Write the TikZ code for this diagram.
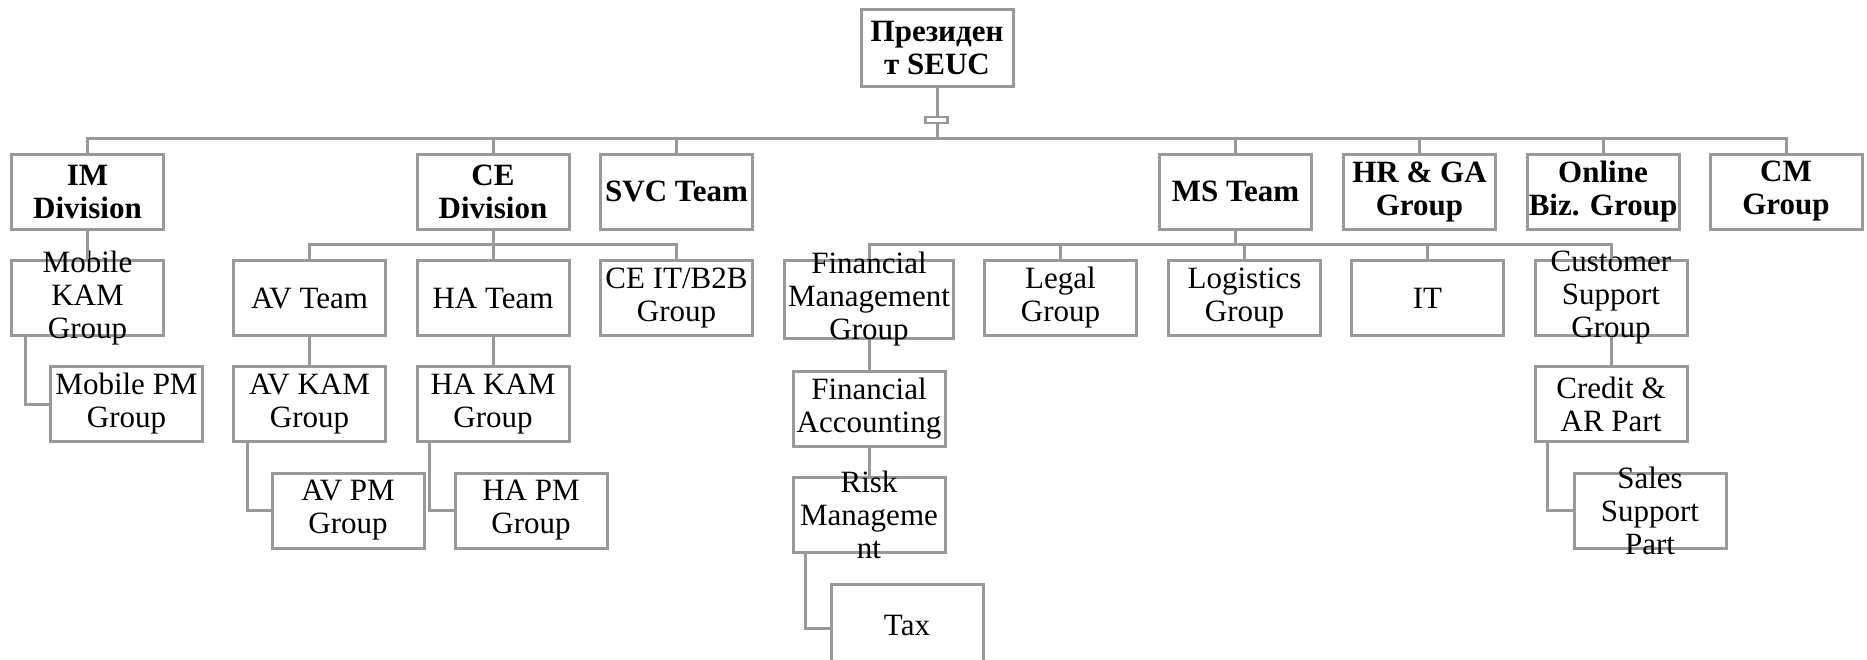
\documentclass[tikz,border=0pt]{standalone}
\usepackage{fontspec}
\setmainfont{Liberation Serif}
\usepackage{tikz}
\usetikzlibrary{positioning,calc}
\definecolor{linegray}{HTML}{999999}

\begin{document}
\begin{tikzpicture}[x=1pt, y=-1pt,
  txt/.style={align=center, inner sep=0pt, font=\fontsize{31}{33}\selectfont},
  box/.style={draw=linegray, line width=3pt, minimum width=152pt, minimum height=75pt, inner sep=0pt, label={[txt]center:#1}},
  head/.style={draw=linegray, line width=3pt, minimum width=152pt, minimum height=75pt, inner sep=0pt, label={[txt, font=\fontsize{31}{33}\selectfont\bfseries]center:#1}},
  link/.style={draw=linegray, line width=3pt}]
\useasboundingbox (0,0) rectangle (1867,659);
% President
\node[head={Президен\\т SEUC}, minimum height=77pt] (pres) at (937,48) {};
% Divisions
\node[head={IM\\Division}] (im) at (87.5,191.5) {};
\node[head={CE\\Division}] (ce) at (493,191.5) {};
\node[head={SVC Team}] (svc) at (676.5,191.5) {};
\node[head={MS Team}] (ms) at (1235.5,191.5) {};
\node[head={HR \& GA\\Group}] (hr) at (1419.5,191.5) {};
\node[head={Online\\Biz. Group}] (online) at (1603,191.5) {};
\node[head={CM\\Group}] (cm) at (1786,191.5) {};
% IM
\node[box={Mobile\\KAM\\Group}] (mkam) at (87.5,298) {};
\node[box={Mobile PM\\Group}] (mpm) at (126.5,404) {};
% CE
\node[box={AV Team}] (av) at (309.5,298) {};
\node[box={HA Team}] (ha) at (493,298) {};
\node[box={CE IT/B2B\\Group}] (ceit) at (676.5,298) {};
\node[box={AV KAM\\Group}] (avkam) at (309.5,404) {};
\node[box={HA KAM\\Group}] (hakam) at (493,404) {};
\node[box={AV PM\\Group}] (avpm) at (348,510.5) {};
\node[box={HA PM\\Group}] (hapm) at (531,510.5) {};
% MS
\node[box={Financial\\Management\\Group}, minimum width=169pt, minimum height=78pt] (fmg) at (869,299.5) {};
\node[box={Legal\\Group}] (legal) at (1060.5,298) {};
\node[box={Logistics\\Group}] (logi) at (1244.5,298) {};
\node[box={IT}] (it) at (1427.5,298) {};
\node[box={Customer\\Support\\Group}] (csg) at (1611,298) {};
\node[box={Financial\\Accounting}] (finacc) at (869,409) {};
\node[box={Risk\\Manageme\\nt}] (risk) at (869,515) {};
\node[box={Tax}, minimum height=82pt] (tax) at (907,625) {};
\node[box={Credit \&\\AR Part}] (credit) at (1611,404) {};
\node[box={Sales\\Support\\Part}] (sales) at (1650,510.5) {};
% Connectors
\coordinate (bus) at (937,138);
\coordinate (cebus) at (493,244);
\coordinate (msbus) at (1235.5,244);
\draw[link] (pres) -- (bus);
\node[draw=linegray, line width=2.5pt, fill=white, minimum width=22pt, minimum height=6pt, inner sep=0pt] (mark) at (936.5,120) {};
\foreach \n in {im,ce,svc,ms,hr,online,cm}
  \draw[link] (\n.north) |- (bus);
\draw[link] (ce) -- (cebus);
\foreach \n in {av,ha,ceit}
  \draw[link] (\n.north) |- (cebus);
\draw[link] (ms) -- (msbus);
\foreach \n in {fmg,legal,logi,it,csg}
  \draw[link] (\n.north) |- (msbus);
\draw[link] (im) -- (mkam);
\draw[link] (av) -- (avkam);
\draw[link] (ha) -- (hakam);
\draw[link] (fmg) -- (finacc);
\draw[link] (finacc) -- (risk);
\draw[link] (csg) -- (credit);
% Elbows
\draw[link] ([xshift=15pt]mkam.south west) |- (mpm.west);
\draw[link] ([xshift=15pt]avkam.south west) |- (avpm.west);
\draw[link] ([xshift=14pt]hakam.south west) |- (hapm.west);
\draw[link] ([xshift=14pt]risk.south west) |- ([yshift=-3pt]tax.west);
\draw[link] ([xshift=14pt]credit.south west) |- (sales.west);
\end{tikzpicture}
\end{document}
